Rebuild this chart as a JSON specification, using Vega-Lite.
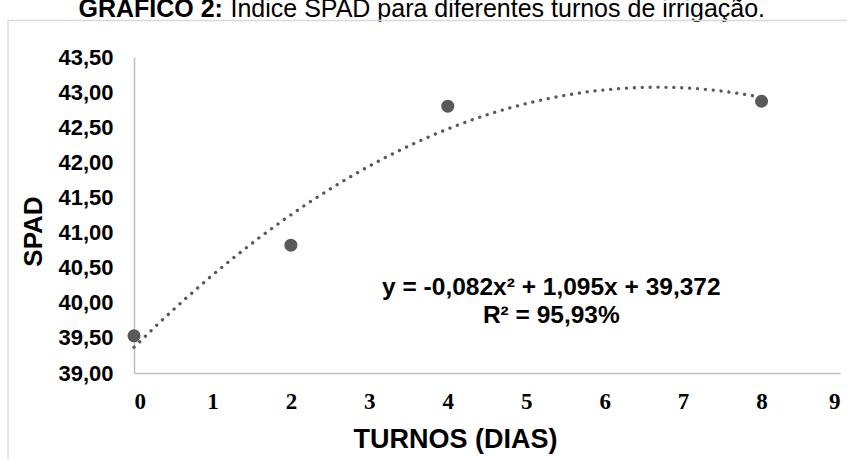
{
  "$schema": "https://vega.github.io/schema/vega-lite/v6.json",
  "autosize": "none",
  "width": 706,
  "height": 316,
  "padding": {"left": 134, "top": 57, "right": 7, "bottom": 87},
  "background": "white",
  "config": {"view": {"stroke": null}, "font": "Liberation Sans"},
  "data": {"values": [
    {"turno": 0, "spad": 39.53},
    {"turno": 2, "spad": 40.82},
    {"turno": 4, "spad": 42.80},
    {"turno": 8, "spad": 42.87}
  ]},
  "resolve": {"axis": {"x": "independent", "y": "independent"}},
  "layer": [
    {
      "data": {"values": [{"frame": "border"}]},
      "mark": {"type": "rect", "fill": null, "stroke": "#d9d9d9", "strokeWidth": 1.3},
      "encoding": {
        "x": {"datum": -1.606, "type": "quantitative", "axis": null, "scale": {"domain": [0, 9], "nice": false, "zero": false}},
        "x2": {"datum": 9.3},
        "y": {"datum": 44.02, "type": "quantitative", "axis": null, "scale": {"domain": [39, 43.5], "nice": false, "zero": false}},
        "y2": {"datum": 37.5}
      }
    },
    {
      "transform": [{"regression": "spad", "on": "turno", "method": "poly", "order": 2, "extent": [0, 8]}],
      "mark": {"type": "line", "color": "#595959", "strokeWidth": 3.3, "strokeCap": "round", "strokeDash": [0.1, 7.8]},
      "encoding": {
        "x": {"field": "turno", "type": "quantitative",
          "scale": {"domain": [0, 9], "nice": false, "zero": false},
          "axis": {"orient": "top", "domain": false, "ticks": false, "labels": false, "grid": false,
            "title": "GRÁFICO 2:", "titleFont": "Liberation Sans", "titleFontSize": 25, "titleFontWeight": "bold", "titleColor": "black",
            "titleX": -56, "titleY": -41, "titleAlign": "left", "titleBaseline": "alphabetic", "titleAngle": 0}},
        "y": {"field": "spad", "type": "quantitative",
          "scale": {"domain": [39, 43.5], "nice": false, "zero": false},
          "axis": {"orient": "right", "domain": false, "ticks": false, "labels": false, "grid": false,
            "title": "Índice SPAD para diferentes turnos de irrigação.", "titleFont": "Liberation Sans", "titleFontSize": 25, "titleFontWeight": "normal", "titleColor": "black",
            "titleX": -610, "titleY": -41, "titleAlign": "left", "titleBaseline": "alphabetic", "titleAngle": 0}}
      }
    },
    {
      "mark": {"type": "point", "filled": true, "color": "#595959", "opacity": 1, "size": 170},
      "encoding": {
        "x": {"field": "turno", "type": "quantitative",
          "scale": {"domain": [0, 9], "nice": false, "zero": false},
          "axis": {"orient": "bottom", "values": [0, 1, 2, 3, 4, 5, 6, 7, 8, 9], "format": "d",
            "grid": false, "ticks": false, "tickSize": 0, "domainColor": "#bfbfbf", "domainWidth": 1.5,
            "labelFont": "Liberation Serif", "labelFontSize": 23, "labelFontWeight": "bold", "labelColor": "black", "labelPadding": 17,
            "title": "TURNOS (DIAS)", "titleFont": "Liberation Sans", "titleFontSize": 27, "titleFontWeight": "bold", "titleColor": "black",
            "titleX": 321, "titleY": 74, "titleAlign": "center", "titleBaseline": "alphabetic"}},
        "y": {"field": "spad", "type": "quantitative",
          "scale": {"domain": [39, 43.5], "nice": false, "zero": false},
          "axis": {"orient": "left", "values": [39, 39.5, 40, 40.5, 41, 41.5, 42, 42.5, 43, 43.5],
            "labelExpr": "replace(format(datum.value, '.2f'), '.', ',')",
            "grid": false, "ticks": false, "tickSize": 0, "domainColor": "#bfbfbf", "domainWidth": 1.5,
            "labelFont": "Liberation Sans", "labelFontSize": 22, "labelFontWeight": "bold", "labelColor": "black", "labelPadding": 21,
            "title": "SPAD", "titleFont": "Liberation Sans", "titleFontSize": 26, "titleFontWeight": "bold", "titleColor": "black",
            "titleAngle": 270, "titleX": -101, "titleY": 174, "titleAlign": "center", "titleBaseline": "middle"}}
      }
    },
    {
      "data": {"values": [{"label": "y = -0,082x² + 1,095x + 39,372"}]},
      "mark": {"type": "text", "font": "Liberation Sans", "fontSize": 24.5, "fontWeight": "bold", "color": "black", "align": "center", "baseline": "alphabetic"},
      "encoding": {
        "text": {"field": "label", "type": "nominal"},
        "x": {"datum": 5.32, "type": "quantitative", "axis": null, "scale": {"domain": [0, 9], "nice": false, "zero": false}},
        "y": {"datum": 40.107, "type": "quantitative", "axis": null, "scale": {"domain": [39, 43.5], "nice": false, "zero": false}}
      }
    },
    {
      "data": {"values": [{"label": "R² = 95,93%"}]},
      "mark": {"type": "text", "font": "Liberation Sans", "fontSize": 24.5, "fontWeight": "bold", "color": "black", "align": "center", "baseline": "alphabetic"},
      "encoding": {
        "text": {"field": "label", "type": "nominal"},
        "x": {"datum": 5.32, "type": "quantitative", "axis": null, "scale": {"domain": [0, 9], "nice": false, "zero": false}},
        "y": {"datum": 39.708, "type": "quantitative", "axis": null, "scale": {"domain": [39, 43.5], "nice": false, "zero": false}}
      }
    }
  ]
}
